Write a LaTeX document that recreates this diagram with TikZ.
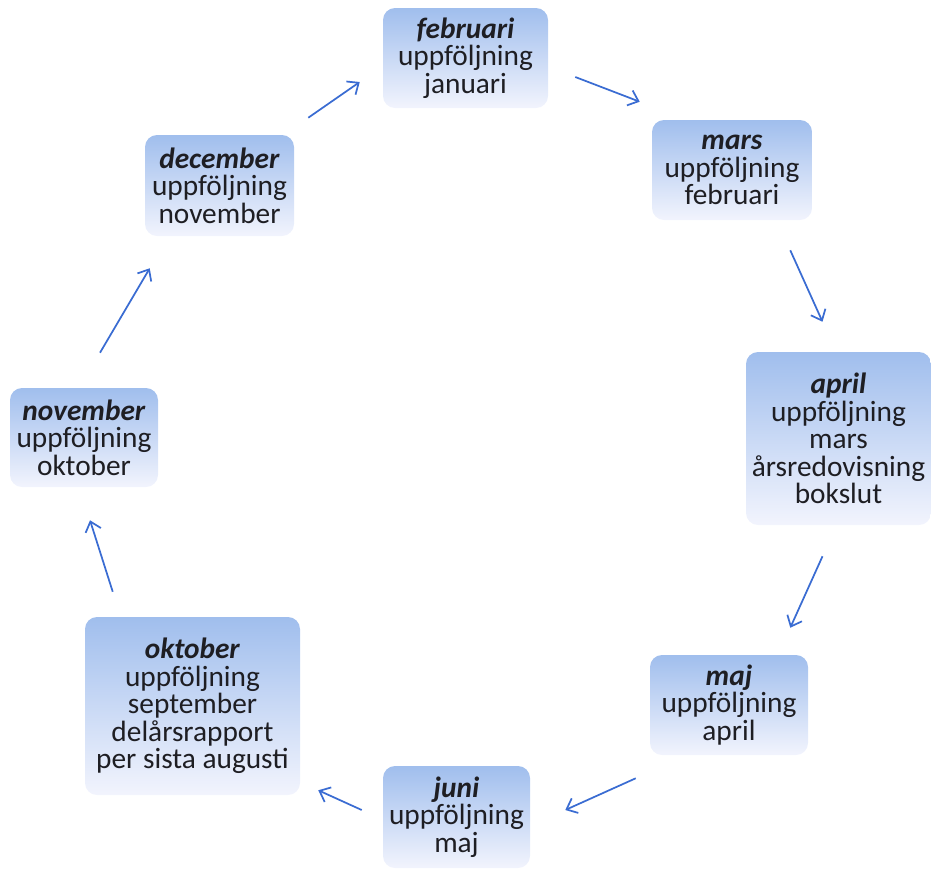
\documentclass[tikz,border=0pt]{standalone}
\usepackage{fontspec}
\setmainfont{Carlito}
\usetikzlibrary{arrows.meta}
\definecolor{boxtop}{RGB}{160,190,237}
\definecolor{boxbot}{RGB}{242,244,253}
\definecolor{arrblue}{RGB}{58,108,210}
\definecolor{txt}{RGB}{30,30,35}
\tikzset{
  box/.style={rounded corners=9pt, top color=boxtop, bottom color=boxbot, draw=none,
    align=center, text=txt, inner sep=0pt,
    font=\fontsize{22}{20.7}\selectfont},
  arr/.style={draw=arrblue, line width=1.3pt, -{Straight Barb[length=7pt,width=12pt,line width=1.3pt]}}
}
\newcommand{\mon}[1]{\textbf{\textit{#1}}}
\begin{document}
\begin{tikzpicture}[x=0.75pt,y=-0.75pt]
\useasboundingbox (0,0) rectangle (931,868);
\node[box, minimum width=165*0.75pt, minimum height=100*0.75pt] (feb) at (465.5,58) {\mon{februari}\\uppföljning\\januari};
\node[box, minimum width=160*0.75pt, minimum height=100*0.75pt] (mar) at (732,170) {\mon{mars}\\uppföljning\\februari};
\node[box, minimum width=185*0.75pt, minimum height=173*0.75pt] (apr) at (838.5,438.5) {\mon{april}\\uppföljning\\mars\\årsredovisning\\bokslut};
\node[box, minimum width=158*0.75pt, minimum height=100*0.75pt] (maj) at (729,705) {\mon{maj}\\uppföljning\\april};
\node[box, minimum width=147*0.75pt, minimum height=102*0.75pt] (jun) at (456.5,817) {\mon{juni}\\uppföljning\\maj};
\node[box, minimum width=215*0.75pt, minimum height=178*0.75pt] (okt) at (192.5,706) {\mon{oktober}\\uppföljning\\september\\delårsrapport\\per sista augusti};
\node[box, minimum width=148*0.75pt, minimum height=99*0.75pt] (nov) at (84,437.5) {\mon{november}\\uppföljning\\oktober};
\node[box, minimum width=149*0.75pt, minimum height=101*0.75pt] (dec) at (219.5,185.5) {\mon{december}\\uppföljning\\november};
\draw[arr] ([shift={(14,-17)}]dec.north east) -- ([shift={(-23,24)}]feb.west);
\draw[arr] ([shift={(27,19)}]feb.east) -- ([shift={(-12,-18)}]mar.north west);
\draw[arr] ([shift={(-22,30)}]mar.south east) -- ([shift={(-16,-30)}]apr.north);
\draw[arr] ([shift={(-16,31)}]apr.south) -- ([shift={(-18,-27)}]maj.north east);
\draw[arr] ([shift={(-14,23)}]maj.south west) -- ([shift={(35,-7)}]jun.east);
\draw[arr] ([shift={(-21,-7)}]jun.west) -- ([shift={(18,-5)}]okt.south east);
\draw[arr] ([shift={(28,-25)}]okt.north west) -- ([shift={(6,33)}]nov.south);
\draw[arr] ([shift={(16,-35)}]nov.north) -- ([shift={(5,32)}]dec.south west);
\end{tikzpicture}
\end{document}
